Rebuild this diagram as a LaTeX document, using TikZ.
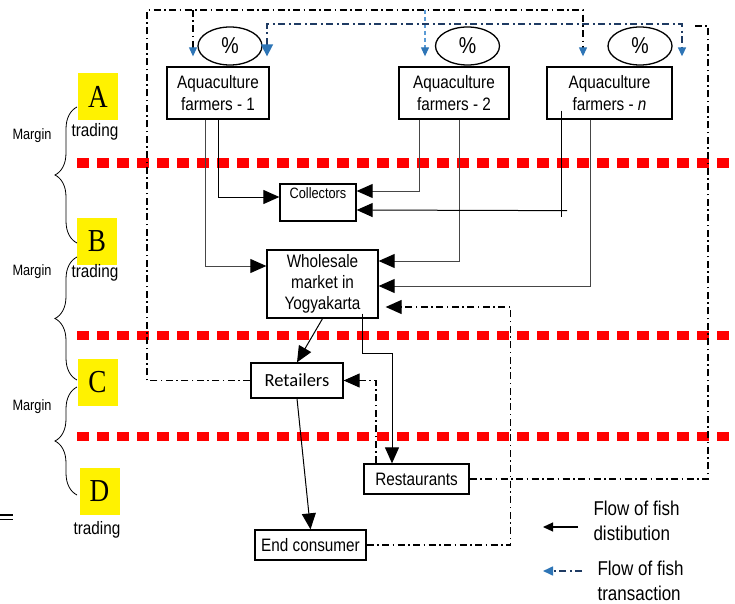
\documentclass[tikz,border=0pt]{standalone}
\usepackage{fontspec}
\setmainfont{Liberation Sans}[FakeStretch=0.85]
\newfontfamily\tierfont{Liberation Serif}[FakeStretch=0.85]
\newfontfamily\retfont{Carlito}
\usetikzlibrary{arrows.meta,shapes.geometric,decorations.pathreplacing}
\definecolor{navy}{HTML}{1F3B63}
\definecolor{tipblue}{HTML}{2E75B6}
\definecolor{skyline}{HTML}{5B9BD5}

\begin{document}
\begin{tikzpicture}[x=1pt,y=-1pt,
		actor/.style={draw, line width=1.3pt, align=center, inner sep=0pt},
		farm/.style={actor, minimum height=52pt, font=\fontsize{18}{21.7}\selectfont},
		pct/.style={draw, ellipse, line width=1.3pt, minimum width=64pt, minimum height=38pt, inner sep=0pt, font=\fontsize{23}{23}\selectfont},
		flow/.style={line width=1pt, -{Triangle[black,length=16pt,width=14pt]}},
		feed/.style={gray!55!black, line width=0.9pt},
		deal/.style={line width=1.1pt, dash pattern=on 7pt off 3.5pt on 1.5pt off 3.5pt},
		bigtip/.style={-{Triangle[black,length=16pt,width=14pt]}},
		smalltip/.style={-{Triangle[tipblue,length=9pt,width=8pt]}},
		pay/.style={navy, line width=1.6pt, dash pattern=on 7pt off 3.5pt on 2pt off 3.5pt},
		tier/.style={fill=yellow, inner sep=0pt, minimum width=40pt, minimum height=47pt, font=\tierfont\fontsize{32}{32}\selectfont},
		zone/.style={red, line width=9pt, dash pattern=on 12pt off 8pt},
		curly/.style={decorate, decoration={brace, amplitude=22pt}, line width=0.8pt},
		note/.style={font=\fontsize{18}{21}\selectfont},
		side/.style={font=\fontsize{15}{15}\selectfont},
		legend/.style={align=left, anchor=west, font=\fontsize{20}{25}\selectfont}]
	\useasboundingbox (0,0) rectangle (735,604);

	% boundaries between trading levels
	\draw[zone] (77,163) -- (735,163);
	\draw[zone] (77,335) -- (735,335);
	\draw[zone] (77,436) -- (735,436);

	% levels and margins
	\node[tier] (A) at (98,97) {A};
	\node[tier] (B) at (97,241.5) {B};
	\node[tier] (C) at (97.5,382) {C};
	\node[tier] (D) at (99.5,491) {D};
	\node[note] (tA) at (95,132) {trading};
	\node[note] (tB) at (95,273) {trading};
	\node[note] (tD) at (97,530) {trading};
	\node[side] (mA) at (32,136) {Margin};
	\node[side] (mB) at (32,272) {Margin};
	\node[side] (mC) at (32,407) {Margin};
	\draw[curly] (77,243) -- (77,107);
	\draw[curly] (77,380) -- (77,257);
	\draw[curly] (77,495) -- (77,387);
	\draw[line width=1.3pt] (0,515) -- (13,515) (0,519.5) -- (13,519.5);

	% actors
	\node[farm, minimum width=102pt] (f1) at (218,93) {Aquaculture\\farmers - 1};
	\node[farm, minimum width=110pt] (f2) at (454,93) {Aquaculture\\farmers - 2};
	\node[farm, minimum width=125pt] (fn) at (609.5,93) {Aquaculture\\farmers - \textit{n}};
	\node[pct] (p1) at (230,46) {\%};
	\node[pct] (p2) at (467.5,46) {\%};
	\node[pct] (pn) at (640,46) {\%};
	\node[actor, minimum width=76pt, inner ysep=3pt, text height=11pt, text depth=20pt, font=\fontsize{15}{15}\selectfont] (col) at (318,202.5) {Collectors};
	\node[actor, minimum width=111pt, minimum height=68pt, font=\fontsize{18}{21}\selectfont] (ws) at (322.5,284) {Wholesale\\market in\\Yogyakarta};
	\node[actor, minimum width=92pt, minimum height=35pt, font=\retfont\fontsize{18.5}{18.5}\selectfont] (ret) at (297,380.5) {Retailers};
	\node[actor, minimum width=105pt, minimum height=30pt, font=\fontsize{18}{18}\selectfont] (rest) at (416.5,479) {Restaurants};
	\node[actor, minimum width=111pt, minimum height=30pt, font=\fontsize{18}{18}\selectfont] (ec) at (310.5,545) {End consumer};

	% flow of fish
	\draw[flow, feed] ([xshift=-13pt]f1.south) |- ([yshift=18pt]ws.west);
	\draw[flow] (f1.south) |- ([yshift=5.5pt]col.west);
	\draw[flow, feed] ([xshift=-35pt]f2.south) |- ([yshift=11.5pt]col.east);
	\draw[flow, feed] ([xshift=5pt]f2.south) |- ([yshift=23pt]ws.east);
	\draw[line width=1pt] ([xshift=-48.5pt,yshift=9pt]fn.south) -- ++(0,106);
	\draw[flow] ([xshift=-42.5pt,yshift=-91pt]fn.south) -- ([yshift=-7.5pt]col.east);
	\draw[flow, feed] ([xshift=-19.5pt]fn.south) |- ([yshift=-2pt]ws.east);
	\draw[flow] (ws.south) -- (ret.north);
	\draw[flow] ([xshift=39.5pt,yshift=5pt]ws.south) -- ++(0,40) -| ([xshift=-24.5pt]rest.north);
	\draw[flow] (ret.south) -- (ec.north);

	% flow of transaction
	\coordinate (topL) at (147,10);
	\coordinate (topR) at (708,26);
	\coordinate (blueY) at (0,24);
	\coordinate (d1) at ([xshift=-25pt,yshift=10pt]f1.north);
	\coordinate (d2) at ([xshift=-29pt,yshift=10pt]f2.north);
	\coordinate (d3) at ([xshift=-26.5pt,yshift=10pt]fn.north);
	\coordinate (b1) at ([xshift=49pt,yshift=10pt]f1.north);
	\coordinate (b2) at ([xshift=72.5pt,yshift=10pt]fn.north);
	\draw[deal, bigtip] (ec.east) -- ++(144,0) |- ([xshift=7pt,yshift=-23pt]ws.east);
	\draw[deal, bigtip] ([xshift=-40.5pt]rest.north) |- (ret.east);
	\draw[deal, smalltip] (ret.west) -| (topL) -| (d3);
	\draw[deal, smalltip] (d1 |- topL) -- (d1);
	\draw[skyline, line width=1.1pt, dash pattern=on 4pt off 3pt, smalltip] (d2 |- topL) -- (d2);
	\draw[pay, {Triangle[tipblue,length=12pt,width=12pt]}-{Triangle[tipblue,length=9pt,width=8pt]}] (b1) -- (b1 |- blueY) -| (b2);
	\draw[deal, line width=1.5pt] (rest.east) -| (topR) -- ++(-13,0);

	% legend
	\node[legend] (lg1) at (590,520.5) {Flow of fish\\distibution};
	\node[legend] (lg2) at (594,581) {Flow of fish\\transaction};
	\draw[line width=1.2pt, -{Triangle[black,length=10pt,width=9pt]}] ([xshift=-12pt,yshift=-6.5pt]lg1.west) -- ++(-35,0);
	\draw[pay, -{Triangle[tipblue,length=10pt,width=9pt]}] ([xshift=-12pt,yshift=10pt]lg2.west) -- ++(-39,0);
\end{tikzpicture}
\end{document}
